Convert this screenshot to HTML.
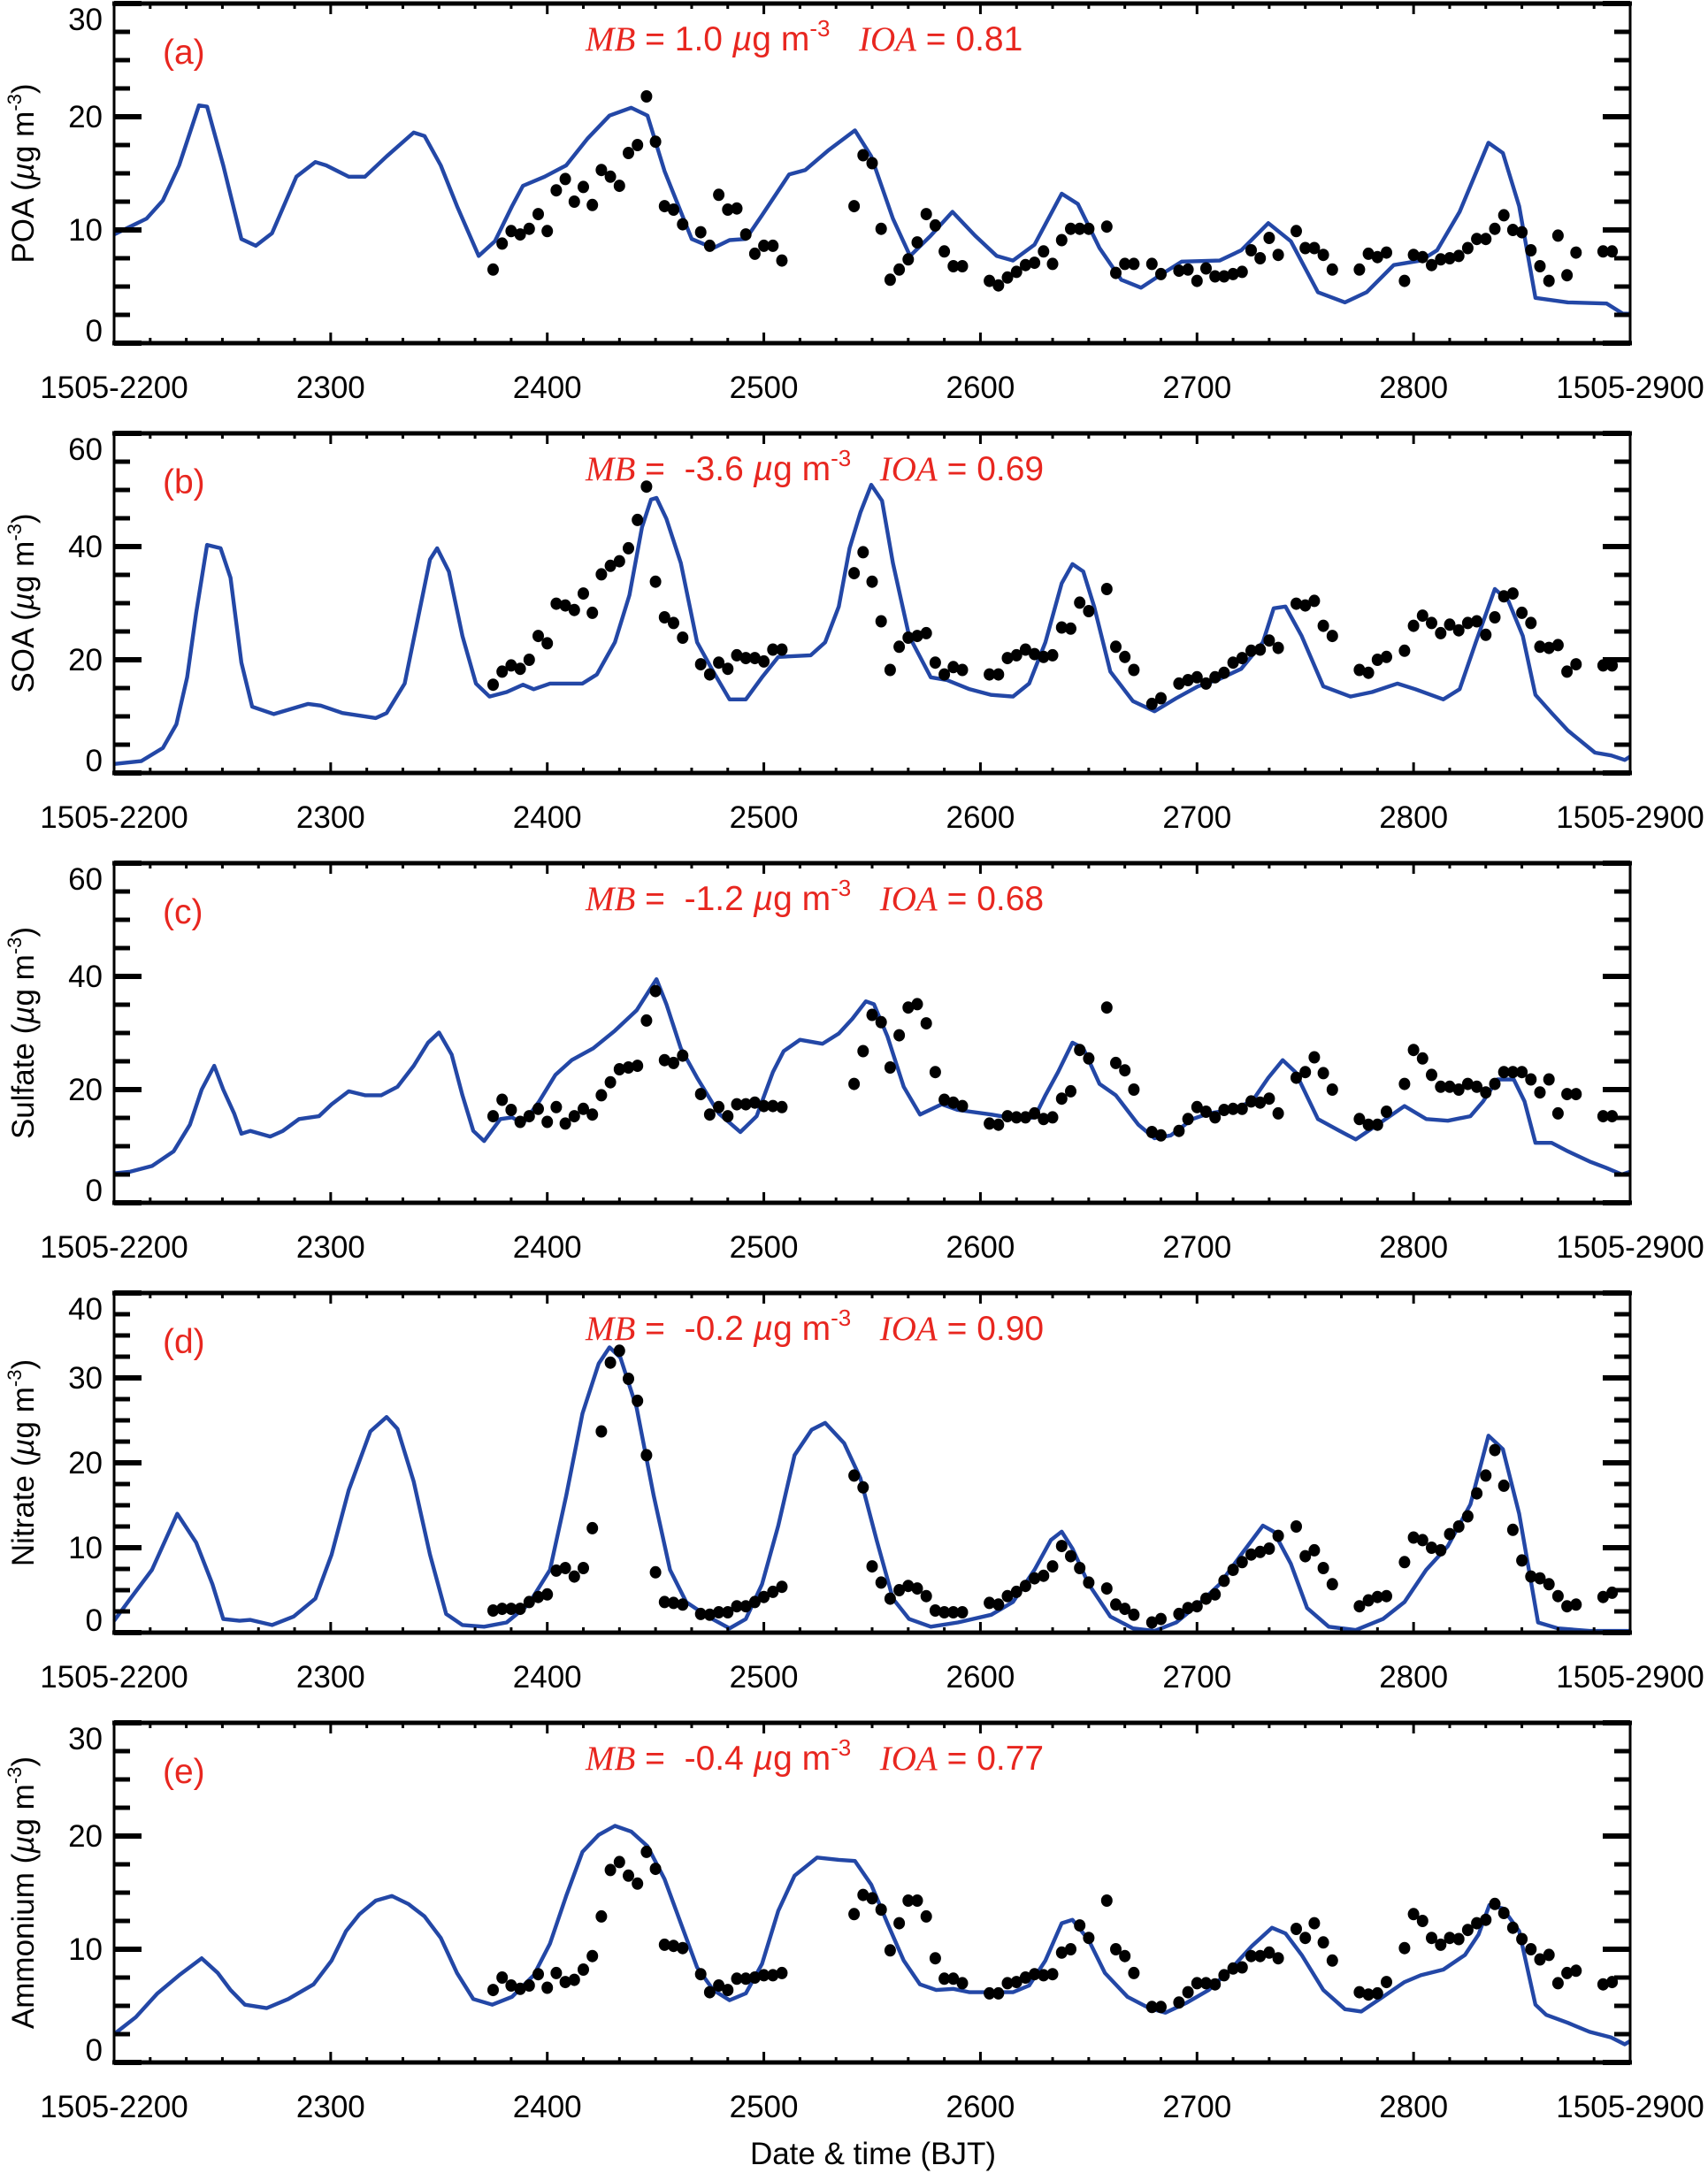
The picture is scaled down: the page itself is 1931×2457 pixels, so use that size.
<!DOCTYPE html>
<html><head><meta charset="utf-8"><title>Model vs observation time series</title>
<style>
html,body{margin:0;padding:0;background:#fff;}
svg{display:block;font-family:"Liberation Sans",sans-serif;}
</style></head>
<body>
<svg id="fig" width="1931" height="2457" viewBox="0 0 1931 2457" xmlns="http://www.w3.org/2000/svg"></svg>
<script>
// ---------- shared data ----------
const xTickLabels = ["1505-2200","2300","2400","2500","2600","2700","2800","1505-2900"];
const obsHours = [42,43,44,45,46,47,48,49,50,51,52,53,54,55,56,57,58,59,60,61,62,63,65,66,67,68,69,70,71,72,73,74,82,83,84,85,86,87,88,89,90,91,92,93,94,97,98,99,100,101,102,103,104,105,106,107,108,110,111,112,113,115,116,118,119,120,121,122,123,124,125,126,127,128,129,131,132,133,134,135,138,139,140,141,143,144,145,146,147,148,149,150,151,152,153,154,155,156,157,158,159,160,161,162,165,166];

// ---------- panel (a) POA ----------
const modelHoursA = [0,3.6,5.4,7.2,9.4,10.3,12.1,14.1,15.7,17.5,20.2,22.3,23.5,26,27.8,30.2,33.2,34.4,36.2,38,40.4,42.2,44.1,45.3,47.7,50.1,52.5,54.9,57.3,59.1,61,64,66.4,68.2,70,71.8,74.8,76.6,79.1,82.1,83.9,86.3,88.2,90.5,92.9,95.4,97.8,99.6,102,105,106.8,109.2,111.6,113.8,115.9,118.3,122.5,124.9,127.9,130.4,133.4,136.4,138.8,141.8,144.8,146.6,149.1,152.3,153.9,155.7,157.5,161.1,165.4,167.2,168];
const modelValuesA = [9.6,11,12.6,15.7,21,20.9,15.7,9.2,8.6,9.7,14.7,16,15.7,14.7,14.7,16.5,18.6,18.3,15.7,12.1,7.7,9,12.1,13.9,14.7,15.7,18.1,20.1,20.8,20.1,15.2,9.2,8.4,9.1,9.2,11.3,14.9,15.3,17,18.8,16.5,11,7.7,9.5,11.6,9.5,7.7,7.3,8.7,13.2,12.3,8.4,5.6,4.9,6,7.2,7.3,8.2,10.6,9,4.5,3.6,4.5,6.9,7.3,8.2,11.6,17.7,16.8,12.1,4,3.6,3.5,2.6,2.6];
const obsValuesA = [6.5,8.8,9.9,9.6,10.1,11.4,9.9,13.5,14.5,12.5,13.8,12.2,15.3,14.7,13.9,16.8,17.5,21.8,17.8,12.1,11.8,10.5,9.8,8.6,13.1,11.8,11.9,9.6,7.9,8.6,8.6,7.3,12.1,16.6,15.9,10.1,5.6,6.5,7.4,8.9,11.4,10.4,8.1,6.8,6.8,5.5,5.1,5.8,6.3,6.9,7.1,8.1,7.0,9.1,10.1,10.1,10.1,10.3,6.2,7.0,7.0,7.0,6.1,6.4,6.5,5.5,6.6,5.9,5.9,6.1,6.3,8.2,7.5,9.3,7.8,9.9,8.4,8.4,7.8,6.5,6.5,7.9,7.6,8.0,5.5,7.8,7.6,6.9,7.4,7.5,7.7,8.4,9.2,9.2,10.1,11.3,10.0,9.8,8.2,6.8,5.5,9.5,6.0,8.0,8.1,8.1];
const yTicksA = [0,10,20,30];

// ---------- panel (b) SOA ----------
const modelHoursB = [0,3,5.4,6.9,8.1,9.1,10.3,11.8,12.9,14.1,15.3,17.7,21.5,22.9,25.3,29,30.2,32.2,33.8,35,35.8,37.1,38.6,40.1,41.6,43.5,45.3,46.5,48.3,51.9,53.5,55.5,57.1,58.5,59.5,60.1,61.2,62.8,64.6,66.4,68.2,70,71.8,73.6,77.2,78.8,80.3,81.5,82.7,83.9,85.1,86.3,88.1,90.5,92.3,94.8,97.2,99.6,101.4,103.2,105,106.2,107.4,108.6,110.4,112.9,115.3,117.7,120.1,122.5,124.9,127.3,128.5,129.8,131.6,134,137,139.4,142.2,144.2,147.3,149.1,150.9,153,154.5,156.1,157.5,159.3,161.1,164.1,165.9,167.4,168];
const modelValuesB = [1.6,2.1,4.4,8.6,16.9,28.3,40.3,39.7,34.5,19.5,11.7,10.4,12.2,11.9,10.6,9.7,10.6,15.8,28.3,37.7,39.7,35.6,24.2,15.8,13.5,14.3,15.6,14.8,15.8,15.8,17.4,23.1,31.4,43.4,48.3,48.6,44.9,37.1,23.1,17.9,13,13,16.9,20.5,20.8,23.1,29.4,39.7,46,50.9,48.1,37.1,24.2,16.9,16.4,14.8,13.8,13.5,15.8,23.1,33.5,36.9,35.6,29.4,17.9,12.7,10.9,13.2,15.3,16.6,18.4,23.1,29.1,29.4,24.2,15.3,13.5,14.3,15.8,14.8,13,14.8,23.1,32.5,30.4,24.2,13.8,10.6,7.5,3.6,3.1,2.3,2.9];
const obsValuesB = [15.6,17.9,19,18.4,20,24.2,22.9,29.9,29.6,28.8,31.7,28.3,35.1,36.6,37.4,39.7,44.7,50.6,33.8,27.5,26.5,23.9,19.2,17.4,19.5,18.4,20.8,20.3,20.3,19.7,21.8,21.8,35.3,39,33.8,26.8,18.2,22.3,23.9,24.2,24.7,19.5,17.4,18.7,18.2,17.4,17.4,20.3,20.8,21.8,21,20.5,20.8,25.7,25.5,30.1,28.6,32.5,22.3,20.5,18.2,12.2,13.2,15.8,16.4,16.9,15.8,16.9,17.7,19.5,20.3,21.6,21.8,23.4,22.1,29.9,29.6,30.4,26,24.2,18.2,17.7,20,20.5,21.6,26,27.8,26.5,24.7,26.2,25.2,26.5,26.8,24.4,27.5,31.2,31.7,28.3,26.5,22.3,22.1,22.6,17.9,19.2,19,19];
const yTicksB = [0,20,40,60];

// ---------- panel (c) Sulfate ----------
const modelHoursC = [0,1.8,4.2,6.6,8.4,9.7,11.1,12.1,13.3,14.1,15.1,17.3,18.7,20.5,22.7,24.1,26,27.8,29.6,31.4,33.2,34.8,36,37.4,38.6,39.8,41,42.8,44.1,45.3,47.1,48.9,50.7,53.1,55.5,57.9,60.1,61.2,62.8,64.6,67,69.4,71.2,73,74.2,76,78.5,80.3,81.8,83.3,84.2,85.7,87.5,89.3,91.7,93.5,97.2,100.2,102,103.2,104.6,106.2,107.4,109.2,111,113.5,115.3,117.1,119.5,121.3,123.7,126.1,127.9,129.5,130.9,133.4,135.8,137.6,140,143,145.4,147.8,150.3,151.7,153.3,155.1,156.3,157.5,159.3,161.1,163.5,165.3,167.1,168];
const modelValuesC = [5.2,5.5,6.5,9.1,13.8,20,24.2,20,15.8,12.2,12.7,11.7,12.7,14.8,15.3,17.4,19.7,19,19,20.5,24.2,28.3,30.1,26.2,19,12.7,10.9,14.8,15.1,14,17.9,22.6,25.2,27.3,30.4,34,39.5,35.1,27.3,22.1,15.8,12.5,15.3,23.1,26.8,28.8,28.1,29.9,32.5,35.6,35.1,29.4,20.5,15.6,17.4,16.4,15.6,14.8,15.1,19,23.1,28.3,27.3,21,19,13.8,11.4,11.9,14.8,15.8,16.4,17.9,22.1,25.2,23.1,14.8,12.7,11.2,13.8,17.1,14.8,14.5,15.3,17.9,21.8,21.8,17.9,10.6,10.6,9.1,7.3,6.2,5,5.5];
const obsValuesC = [15.3,18.2,16.4,14.3,15.3,16.6,14.3,16.9,14,15.3,16.6,15.6,19,21.3,23.6,23.9,24.2,32.2,37.4,25.2,24.7,26,19.2,15.6,16.9,15.3,17.4,17.4,17.7,17.1,17.1,16.9,21,26.8,33.2,31.9,23.9,29.6,34.5,35.1,31.7,23.1,18.2,17.7,17.1,14,13.8,15.3,15.1,15.1,15.8,14.8,15.1,18.4,19.7,27,25.5,34.5,24.7,23.4,20,12.5,11.9,12.7,14.8,16.9,16.1,15.1,16.4,16.6,16.6,17.9,17.7,18.4,15.8,22.1,23.1,25.7,22.9,20,14.8,13.8,13.8,16.1,21,27,25.5,22.6,20.5,20.5,20,21,20.5,19.5,21,23.1,23.1,23.1,21.8,19.5,21.8,15.8,19.2,19.2,15.3,15.3];
const yTicksC = [0,20,40,60];

// ---------- panel (d) Nitrate ----------
const modelHoursD = [0,1.8,4.2,7,9.1,10.9,12.1,13.9,15.1,17.5,19.9,22.3,24.1,26,28.4,30.2,31.4,33.2,35,36.8,38.6,41,43.5,45.9,48.3,50.1,51.9,53.7,54.9,56.1,57.9,59.8,61.6,63.4,65.8,68.2,70,71.8,73.6,75.4,77.3,78.8,80.9,82.7,84.5,86.3,88.1,90.5,93.5,97.2,99.6,102,103.8,105,106.2,108,110.4,112.9,115.3,117.7,120.1,122.5,124.9,127.3,128.5,130.4,132.2,134.6,137.6,140.6,143,145.4,147.8,150.3,152.3,153.9,155.7,157.8,160,163.5,168];
const modelValuesD = [1.4,4,7.4,14,10.6,5.7,1.6,1.4,1.5,0.9,1.9,4,9.2,16.8,23.7,25.4,24,17.8,9.2,2.2,0.9,0.7,1.2,3.3,7.4,16.1,25.8,31.7,33.6,32.4,26.5,16.1,7.4,3.6,1.9,0.5,1.6,5.7,12.6,20.9,23.9,24.7,22.3,18.2,10.9,4,1.6,0.7,1.2,2.1,3.6,7.4,10.9,11.9,9.9,5.7,1.9,0.5,0.2,1.2,3.3,5.7,9.2,12.6,11.9,8.1,2.9,0.7,0.3,1.6,3.6,7.4,10.2,15.1,23.2,21.6,14,1.2,0.5,0.2,0.2];
const obsValuesD = [2.6,2.8,2.8,2.8,3.6,4.2,4.5,7.3,7.6,6.6,7.6,12.3,23.7,31.8,33.2,29.9,27.3,20.9,7.1,3.6,3.5,3.3,2.2,2.1,2.4,2.4,3.1,3.1,3.6,4.2,4.8,5.4,18.5,17.1,7.8,5.9,4,5,5.5,5.2,4.3,2.6,2.4,2.4,2.4,3.5,3.3,4.3,4.8,5.5,6.4,6.7,7.8,10.2,9,7.6,5.9,5.2,3.3,2.8,2.1,1.2,1.6,2.2,2.9,3.1,4,4.5,6.1,7.4,8.3,9.2,9.5,9.9,11.4,12.5,9,9.7,7.6,5.7,3.1,3.8,4.2,4.3,8.3,11.2,10.9,10,9.7,11.6,12.5,13.7,16.4,18.5,21.5,17.3,12.1,8.5,6.6,6.4,5.7,4.3,3.1,3.3,4.2,4.7];
const yTicksD = [0,10,20,30,40];

// ---------- panel (e) Ammonium ----------
const modelHoursE = [0,2.4,4.8,7.2,9.7,11.5,12.9,14.5,16.9,19.3,22.1,24.1,25.7,27.2,29,30.8,32.6,34.4,36.2,38,39.8,41.9,44.1,46.5,48.3,50.1,51.9,53.7,55.5,57.3,59.1,61,62.8,64.6,66.4,68.2,70,71.8,73.6,75.4,77.9,80.3,82.1,83.9,85.7,87.5,89.3,91.1,93,94.8,99.6,101.4,103.2,105,106.2,108,109.8,112.3,114.7,116.5,118.9,121.3,123.7,126.1,128.3,129.8,131.6,134,136.4,138.2,140.6,143,144.8,147.3,149.7,151.2,152.4,153.9,155.7,157.5,158.7,161.1,163.5,165.9,167.4,168];
const modelValuesE = [2.5,4,6.1,7.7,9.2,7.9,6.4,5.1,4.8,5.6,6.9,9,11.6,13.1,14.3,14.7,14,12.9,11,7.9,5.6,5.1,5.8,7.7,10.5,14.7,18.6,20.1,20.9,20.4,19.1,16.2,12.3,8.4,6.4,5.5,6.1,8.7,13.4,16.5,18.1,17.9,17.8,15.7,12.3,9,6.9,6.4,6.5,6.2,6.2,6.8,9,12.3,12.6,10.8,7.9,5.8,4.8,4.4,5.3,6.4,8.2,10.3,11.9,11.4,9.5,6.4,4.7,4.5,5.8,7.1,7.7,8.2,9.5,11.3,13.9,13.6,11.6,5.1,4.2,3.5,2.7,2.2,1.6,1.9];
const obsValuesE = [6.4,7.5,6.8,6.5,6.8,7.8,6.6,7.9,7.1,7.3,8.2,9.4,12.9,17,17.7,16.5,15.8,18.6,17.1,10.4,10.3,10.1,7.8,6.2,6.8,6.4,7.4,7.4,7.5,7.7,7.7,7.9,13.1,14.8,14.5,13.5,9.9,12.3,14.3,14.3,12.9,9.2,7.4,7.4,7,6.1,6.1,7,7.1,7.5,7.8,7.7,7.8,9.7,10,12.1,11,14.3,10,9.4,7.9,4.9,4.9,5.3,6.2,7,7,6.9,7.7,8.3,8.4,9.4,9.4,9.7,9.2,11.8,11,12.3,10.6,9,6.2,6,6.1,7.1,10.1,13.1,12.5,11,10.4,11,10.9,11.7,12.3,12.6,14,13.2,11.9,10.9,10,9.1,9.5,7,7.9,8.1,6.9,7.1];
const yTicksE = [0,10,20,30];

const panelLetters = ["(a)","(b)","(c)","(d)","(e)"];
const panelSpecies = ["POA","SOA","Sulfate","Nitrate","Ammonium"];
const panelMB = ["1.0","-3.6","-1.2","-0.2","-0.4"];
const panelIOA = ["0.81","0.69","0.68","0.90","0.77"];

const panels = [
  {key:"poa", mh:modelHoursA, mv:modelValuesA, ov:obsValuesA, ticks:yTicksA, ymax:30, minor:2.5},
  {key:"soa", mh:modelHoursB, mv:modelValuesB, ov:obsValuesB, ticks:yTicksB, ymax:60, minor:5},
  {key:"sulfate", mh:modelHoursC, mv:modelValuesC, ov:obsValuesC, ticks:yTicksC, ymax:60, minor:5},
  {key:"nitrate", mh:modelHoursD, mv:modelValuesD, ov:obsValuesD, ticks:yTicksD, ymax:40, minor:2.5},
  {key:"ammonium", mh:modelHoursE, mv:modelValuesE, ov:obsValuesE, ticks:yTicksE, ymax:30, minor:2.5}
];

// ---------- drawing ----------
const NS = "http://www.w3.org/2000/svg";
const svg = document.getElementById("fig");
const X0 = 129, X1 = 1843, HMAX = 168;
const PTOP = 4, PBOT = 388, STEP = 486;
function xScale(h){ return X0 + (X1 - X0) * h / HMAX; }
function mk(tag, attrs, parent){
  const e = document.createElementNS(NS, tag);
  for (const k in attrs) e.setAttribute(k, attrs[k]);
  (parent || svg).appendChild(e);
  return e;
}

panels.forEach((p, i) => {
  const top = PTOP + STEP * i, bot = PBOT + STEP * i;
  const yScale = v => bot - (bot - top) * v / p.ymax;
  const g = mk("g", {});
  
  

  // model line
  let d = "";
  p.mh.forEach((h, j) => { d += (j ? "L" : "M") + xScale(h).toFixed(1) + "," + yScale(p.mv[j]).toFixed(1); });
  const line = mk("path", {d: d, fill: "none", stroke: "#2347a6", "stroke-width": 4.4, "stroke-linejoin": "round"}, g);
  
  

  // observations
  const og = mk("g", {}, g);
  
  
  obsHours.forEach((h, j) => {
    const c = mk("ellipse", {cx: xScale(h).toFixed(1), cy: yScale(p.ov[j]).toFixed(1), rx: 6.5, ry: 7, fill: "#000"}, og);
    
    
  });

  // frame
  const fr = mk("rect", {x: X0, y: top, width: X1 - X0, height: bot - top, fill: "none", stroke: "#000", "stroke-width": 3}, g);
  
  
  mk("line", {x1: X0 - 2, x2: X1 + 2, y1: bot, y2: bot, stroke: "#000", "stroke-width": 5}, g);
  mk("line", {x1: X0 - 2, x2: X1 + 2, y1: top, y2: top, stroke: "#000", "stroke-width": 5}, g);

  // y ticks
  for (let v = 0; v <= p.ymax + 1e-6; v += p.minor) {
    const major = p.ticks.indexOf(v) >= 0;
    const len = major ? 31 : 18, y = yScale(v);
    mk("line", {x1: X0, x2: X0 + len, y1: y, y2: y, stroke: "#000", "stroke-width": major ? 6 : 5}, g);
    mk("line", {x1: X1 - len, x2: X1, y1: y, y2: y, stroke: "#000", "stroke-width": major ? 6 : 5}, g);
  }
  p.ticks.forEach(v => {
    let y = yScale(v) + 12;
    y = Math.max(top + 30, Math.min(bot - 2, y));
    const t = mk("text", {x: 116, y: y, "text-anchor": "end", "font-size": 35}, g);
    t.textContent = v;
    
    
  });

  // x ticks
  for (let h = 0; h <= HMAX; h += 4) {
    const major = h % 24 === 0, x = xScale(h);
    const len = major ? 12 : 6;
    mk("line", {x1: x, x2: x, y1: bot, y2: bot - len, stroke: "#000", "stroke-width": 3}, g);
    mk("line", {x1: x, x2: x, y1: top, y2: top + len, stroke: "#000", "stroke-width": 3}, g);
  }
  xTickLabels.forEach((lab, k) => {
    const t = mk("text", {x: xScale(24 * k), y: bot + 62, "text-anchor": "middle", "font-size": 35}, g);
    t.textContent = lab;
    
    
  });

  // y axis title
  const yt = mk("text", {transform: "translate(38," + ((top + bot) / 2) + ") rotate(-90)", "text-anchor": "middle", "font-size": 35}, g);
  
  
  yt.innerHTML = panelSpecies[i] + ' (<tspan font-style="italic">µ</tspan>g m<tspan font-size="22" dy="-14">-3</tspan><tspan dy="14">)</tspan>';

  // panel letter
  const pl = mk("text", {x: 184, y: top + 68, fill: "#e8261f", "font-size": 39}, g);
  pl.textContent = panelLetters[i];
  
  

  // stats
  const st = mk("text", {x: 662, y: top + 53, fill: "#e8261f", "font-size": 39}, g);
  
  
  const mbSp = i === 0 ? " " : "  ";
  st.innerHTML = '<tspan font-family="Liberation Serif" font-style="italic">MB</tspan> =' + mbSp.replace(/ /g, '\u00a0') + panelMB[i] +
    ' <tspan font-style="italic">µ</tspan>g m<tspan font-size="26" dy="-16">-3</tspan><tspan dy="16">\u00a0\u00a0\u00a0</tspan>' +
    '<tspan font-family="Liberation Serif" font-style="italic">IOA</tspan> = ' + panelIOA[i];
});

const xt = mk("text", {x: 987, y: 2447, "text-anchor": "middle", "font-size": 35});
xt.textContent = "Date & time (BJT)";


</script>
</body></html>
